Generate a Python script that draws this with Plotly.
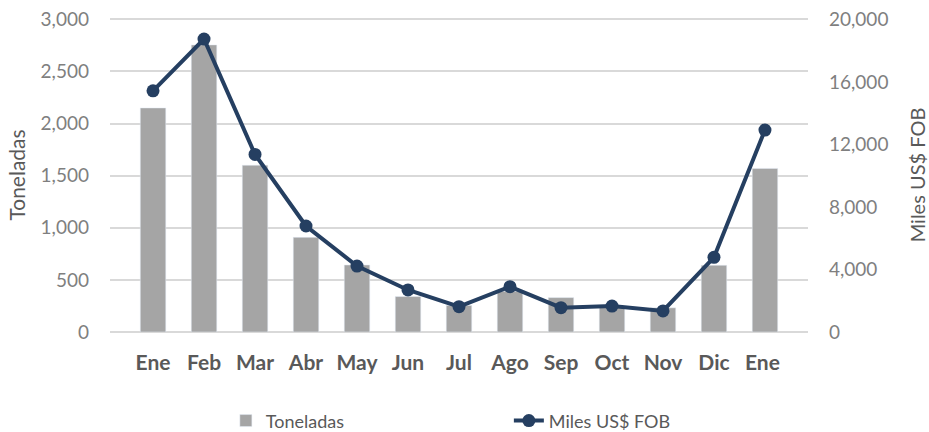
import plotly.graph_objects as go

meses = ["Ene", "Feb", "Mar", "Abr", "May", "Jun", "Jul", "Ago", "Sep", "Oct", "Nov", "Dic", "Ene "]
toneladas = [2150, 2755, 1600, 908, 643, 340, 255, 390, 330, 240, 232, 640, 1570]
miles_fob = [15430, 18740, 11360, 6780, 4220, 2690, 1620, 2900, 1555, 1660, 1345, 4780, 12920]

left_ticks = [0, 500, 1000, 1500, 2000, 2500, 3000]
right_ticks = [0, 4000, 8000, 12000, 16000, 20000]

FONT = "Lato"
fig = go.Figure()
fig.add_trace(go.Bar(x=meses, y=toneladas, name="Toneladas", marker_color="#A5A5A5", yaxis="y"))
fig.add_trace(go.Scatter(x=meses, y=miles_fob, name="Miles US$ FOB", yaxis="y2",
                         mode="lines+markers", line=dict(color="#253F61", width=4),
                         marker=dict(size=13, color="#253F61")))

fig.update_layout(
    width=929, height=432,
    margin=dict(l=110, r=121, t=18, b=100, autoexpand=False),
    paper_bgcolor="white", plot_bgcolor="white",
    font=dict(family=FONT, size=19, color="#7F7F7F"),
    bargap=0.5,
    showlegend=True,
    legend=dict(orientation="h", x=0.166, xanchor="left", y=-0.283, yanchor="middle",
                entrywidth=238, entrywidthmode="pixels",
                font=dict(family=FONT, size=18, color="#595959")),
    xaxis=dict(tickfont=dict(family=FONT, size=21, color="#595959", weight="bold"),
               showgrid=False, showline=False, ticks="", ticklabelstandoff=16, automargin=False),
    yaxis=dict(range=[0, 3013], tickvals=left_ticks, tickformat=",", showgrid=True,
               gridcolor="#D9D9D9", gridwidth=1.5, zeroline=True, zerolinecolor="#D9D9D9",
               zerolinewidth=1.5, ticks="", ticklabelstandoff=20, automargin=False,
               ticklabeloverflow="allow",
               title=dict(text="Toneladas", font=dict(family=FONT, size=21, color="#595959"), standoff=9)),
    yaxis2=dict(range=[0, 20087], tickvals=right_ticks, tickformat=",", overlaying="y", side="right",
                showgrid=False, zeroline=False, ticks="", ticklabelstandoff=20, automargin=False,
                ticklabeloverflow="allow",
                title=dict(text="Miles US$ FOB", font=dict(family=FONT, size=20, color="#595959"), standoff=26)),
)
fig.write_html("out.html", config={"displayModeBar": False},
               post_script="document.body.style.margin='0';document.body.style.overflow='hidden';")
